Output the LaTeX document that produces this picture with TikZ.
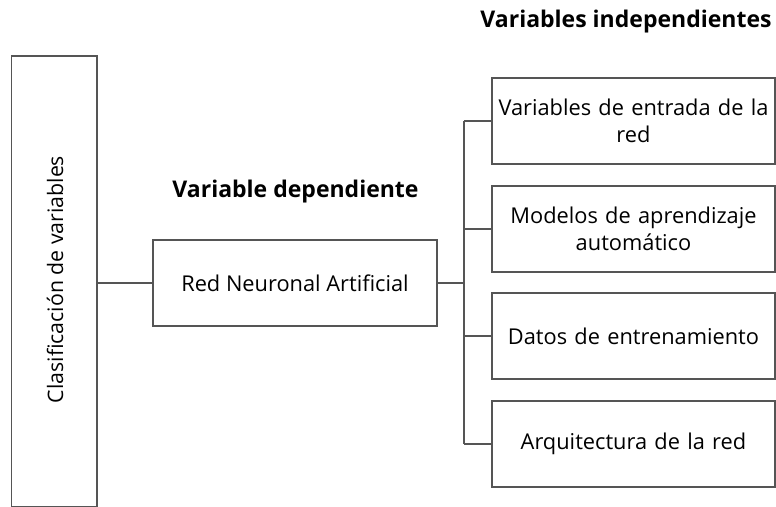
\documentclass[tikz,border=0pt]{standalone}
\usepackage{fontspec}
\setmainfont{Open Sans}
\definecolor{linegray}{RGB}{85,85,85}
\begin{document}
\begin{tikzpicture}[x=1pt,y=-1pt,
  box/.style={draw=linegray,line width=1.2pt,rectangle,inner sep=2pt,align=center,font=\fontsize{21.8}{27}\selectfont,text=black},
  conn/.style={draw=linegray,line width=1.2pt},
  title/.style={font=\fontsize{23}{27}\selectfont\bfseries,text=black,inner sep=0pt}]
\useasboundingbox (0,0) rectangle (776,506);
\clip (0,0) rectangle (776,506);
\node[box,minimum width=85.5pt,minimum height=451pt] (cls) at (54.25,281.5) {};
\node[rotate=90,font=\fontsize{21.3}{27}\selectfont,text=black] (clstext) at (55,279.5) {Clasificación de variables};
\node[box,minimum width=284pt,minimum height=86pt] (rna) at (295,283) {Red Neuronal Artificial};
\node[box,text width=275pt,minimum width=283pt,minimum height=86pt] (b1) at (633.5,121) {Variables de entrada de la\\red};
\node[box,text width=275pt,minimum width=283pt,minimum height=86pt] (b2) at (633.5,229) {Modelos de aprendizaje\\automático};
\node[box,text width=275pt,minimum width=283pt,minimum height=86pt] (b3) at (633.5,336) {Datos de entrenamiento};
\node[box,text width=275pt,minimum width=283pt,minimum height=86pt] (b4) at (633.5,444) {Arquitectura de la red};
\node[title] (tdep) at (295.5,192) {Variable dependiente};
\node[title] (tind) at (626,22) {Variables independientes};
\coordinate (sp) at (464,283);
\draw[conn] (cls.east |- rna.west) -- (rna.west);
\draw[conn] (rna.east) -- (sp);
\draw[conn] (sp |- b1.west) -- (sp |- b4.west);
\foreach \b in {b1,b2,b3,b4}{\draw[conn] (sp |- \b.west) -- (\b.west);}
\end{tikzpicture}
\end{document}
